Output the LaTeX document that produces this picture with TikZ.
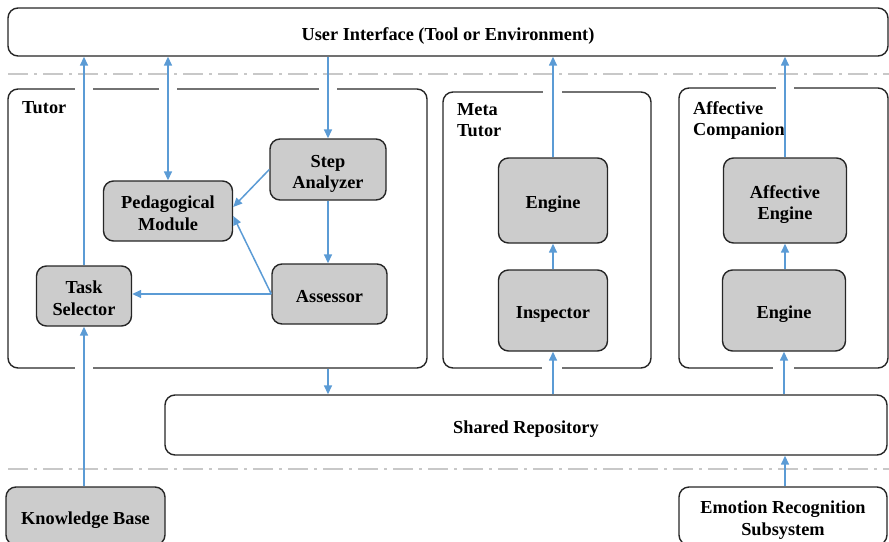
\documentclass[tikz,border=0pt]{standalone}
\usepackage{fontspec}
\setmainfont{Liberation Serif}
\usetikzlibrary{arrows.meta}
\definecolor{arrowblue}{HTML}{5B9BD5}
\definecolor{boxgray}{HTML}{CCCCCC}
\definecolor{sepgray}{HTML}{C8C8C8}
\definecolor{edgecol}{HTML}{262626}
\newcommand\boxlines[1]{\raisebox{-8.5pt}[0pt][0pt]{\begin{tabular}{@{}c@{}}#1\end{tabular}}}
\begin{document}
\begin{tikzpicture}[x=1pt,y=-1pt,
  font=\fontsize{18.3}{21.5}\selectfont\bfseries,
  module/.style={draw=edgecol, line width=1.4pt, rounded corners=10pt, fill=boxgray, inner sep=0pt},
  panel/.style={draw=edgecol, line width=1.4pt, rounded corners=10pt, inner sep=0pt},
  plainbox/.style={draw=edgecol, line width=1.4pt, rounded corners=10pt, fill=white, inner sep=0pt},
  link/.style={draw=arrowblue, line width=1.5pt, -{Triangle[length=9pt,width=8pt]}},
  twoway/.style={draw=arrowblue, line width=1.5pt, {Triangle[length=9pt,width=8pt]}-{Triangle[length=9pt,width=8pt]}},
  separator/.style={draw=sepgray, line width=2pt, dash pattern=on 20pt off 6pt on 3pt off 6pt},
  gap/.style={draw=white, line width=3.5pt},
  paneltitle/.style={anchor=west, align=left, inner sep=0pt}]
\useasboundingbox (0,0) rectangle (889,541);

% separators
\coordinate (s1a) at (8,74);
\coordinate (s1b) at (889,74);
\coordinate (s2a) at (8,469);
\coordinate (s2b) at (889,469);
\draw[separator] (s1a) -- (s1b);
\draw[separator] (s2a) -- (s2b);

% top and bottom boxes
\node[plainbox, minimum width=880pt, minimum height=48pt] (ui) at (448,32) {\boxlines{User Interface (Tool or Environment)}};
\node[plainbox, minimum width=722pt, minimum height=60pt] (shared) at (526,425) {\boxlines{Shared Repository}};
\node[module, minimum width=159pt, minimum height=58pt] (kb) at (85.5,516) {\boxlines{Knowledge Base}};
\node[plainbox, minimum width=208pt, minimum height=58pt] (emotion) at (783,516) {\boxlines{Emotion Recognition\\Subsystem}};

% panels
\node[panel, minimum width=419pt, minimum height=279pt] (tutor) at (217.5,228.5) {};
\node[panel, minimum width=208pt, minimum height=276pt] (meta) at (547,230) {};
\node[panel, minimum width=209pt, minimum height=280pt] (affect) at (783.5,228) {};
\node[paneltitle] (tutortitle) at (22,108) {Tutor};
\node[paneltitle] (metatitle) at (457,120) {Meta\\Tutor};
\node[paneltitle] (affecttitle) at (693,120.5) {Affective\\Companion};

% modules
\node[module, minimum width=116pt, minimum height=61pt] (step) at (328,169.5) {\boxlines{Step\\Analyzer}};
\node[module, minimum width=129pt, minimum height=60pt] (ped) at (168,211) {\boxlines{Pedagogical\\Module}};
\node[module, minimum width=95pt, minimum height=60pt] (task) at (84,296) {\boxlines{Task\\Selector}};
\node[module, minimum width=115pt, minimum height=60pt] (assessor) at (329.5,294) {\boxlines{Assessor}};
\node[module, minimum width=109pt, minimum height=85pt] (metaengine) at (553,200.5) {\boxlines{Engine}};
\node[module, minimum width=109pt, minimum height=81pt] (inspector) at (553,310.5) {\boxlines{Inspector}};
\node[module, minimum width=123pt, minimum height=85pt] (affengine) at (785,200.5) {\boxlines{Affective\\Engine}};
\node[module, minimum width=123pt, minimum height=81pt] (engine) at (784,310.5) {\boxlines{Engine}};

% gaps in panel borders where connectors cross
\draw[gap] ([xshift=-9pt]tutor.north -| task.north) -- ([xshift=9pt]tutor.north -| task.north);
\draw[gap] ([xshift=-9pt]tutor.north -| ped.north) -- ([xshift=9pt]tutor.north -| ped.north);
\draw[gap] ([xshift=-9pt]tutor.north -| step.north) -- ([xshift=9pt]tutor.north -| step.north);
\draw[gap] ([xshift=-9pt]tutor.south -| task.south) -- ([xshift=9pt]tutor.south -| task.south);
\draw[gap] ([xshift=-10pt]meta.north -| metaengine.north) -- ([xshift=9pt]meta.north -| metaengine.north);
\draw[gap] ([xshift=-11pt]meta.south -| inspector.south) -- ([xshift=9pt]meta.south -| inspector.south);
\draw[gap] ([xshift=-9pt]affect.north -| affengine.north) -- ([xshift=9pt]affect.north -| affengine.north);
\draw[gap] ([xshift=-11pt]affect.south -| engine.south) -- ([xshift=10pt]affect.south -| engine.south);

% connectors
\draw[link] (task.north) -- (task.north |- ui.south);
\draw[twoway] (ui.south -| ped.north) -- (ped.north);
\draw[link] (ui.south -| step.north) -- (step.north);
\draw[link] (step.west) -- ([yshift=4pt]ped.east);
\draw[link] (assessor.west) -- ([yshift=-5pt]ped.east);
\draw[link] (assessor.west) -- (assessor.west -| task.east);
\draw[link] (step.south) -- (assessor.north -| step.south);
\draw[link] (kb.north -| task.south) -- (task.south);
\draw[link] (tutor.south -| step.south) -- (shared.north -| step.south);
\draw[link] (shared.north -| inspector.south) -- (inspector.south);
\draw[link] (inspector.north) -- (metaengine.south);
\draw[link] (metaengine.north) -- (metaengine.north |- ui.south);
\draw[link] (shared.north -| engine.south) -- (engine.south);
\draw[link] (engine.north -| affengine.south) -- (affengine.south);
\draw[link] (affengine.north) -- (affengine.north |- ui.south);
\draw[link] (emotion.north -| affengine.south) -- (shared.south -| affengine.south);
\end{tikzpicture}
\end{document}
